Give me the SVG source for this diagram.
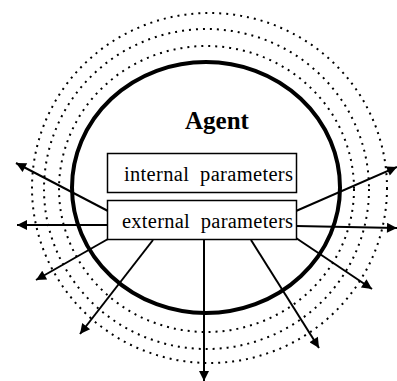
<svg xmlns="http://www.w3.org/2000/svg" width="397" height="381" viewBox="0 0 397 381">
<style>
.dot{fill:none;stroke:#000;stroke-width:2;stroke-dasharray:2 5}
.box{fill:#fff;stroke:#000;stroke-width:1.5}
.lbl{font-family:"Liberation Serif","Times New Roman",serif;font-size:20.5px;fill:#000}
.arr{stroke:#000;stroke-width:2;fill:none;marker-end:url(#ah)}
</style>
<defs>
<marker id="ah" viewBox="0 0 10 10" refX="10" refY="5" markerWidth="12" markerHeight="10" markerUnits="userSpaceOnUse" orient="auto">
<path d="M0,0 L10,5 L0,10 Z" fill="#000"/>
</marker>
</defs>
<rect width="397" height="381" fill="#fff"/>
<g id="orbits">
<ellipse class="dot" cx="206.5" cy="189" rx="147.5" ry="143"/>
<ellipse class="dot" cx="206.5" cy="189" rx="162.5" ry="160"/>
<ellipse class="dot" cx="209.5" cy="188" rx="177.5" ry="175"/>
</g>
<g id="agent">
<ellipse cx="206" cy="187.5" rx="134" ry="125.5" fill="none" stroke="#000" stroke-width="4"/>
<text x="217" y="129" text-anchor="middle" style="font-family:'Liberation Serif','Times New Roman',serif;font-weight:bold;font-size:25px">Agent</text>
</g>
<g id="connectors">
<line class="arr" x1="108" y1="211" x2="16" y2="163"/>
<line class="arr" x1="108" y1="225" x2="17" y2="225"/>
<line class="arr" x1="108" y1="239" x2="36" y2="280"/>
<line class="arr" x1="153" y1="240" x2="80" y2="334"/>
<line class="arr" x1="204" y1="240" x2="204" y2="381"/>
<line class="arr" x1="251" y1="240" x2="319" y2="348"/>
<line class="arr" x1="296" y1="238" x2="372" y2="289"/>
<line class="arr" x1="296" y1="226" x2="397" y2="228"/>
<line class="arr" x1="296" y1="211" x2="397" y2="167"/>
</g>
<g id="internal">
<rect class="box" x="107.5" y="153.5" width="189" height="39"/>
<text class="lbl" x="124" y="181" xml:space="preserve" textLength="169">internal  parameters</text>
</g>
<g id="external">
<rect class="box" x="107.5" y="200.5" width="189" height="39"/>
<text class="lbl" x="122" y="228" xml:space="preserve" textLength="171">external  parameters</text>
</g>
</svg>
